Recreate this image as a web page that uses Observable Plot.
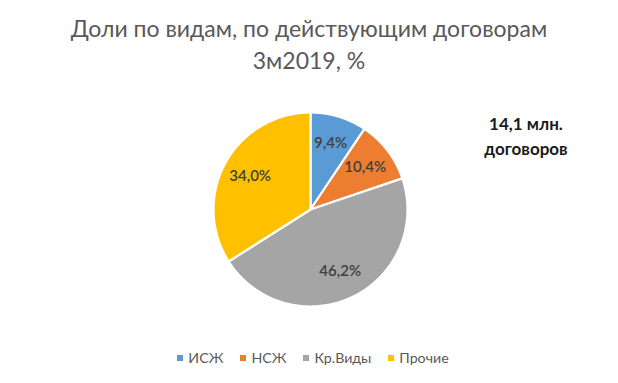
<!DOCTYPE html>
<html><head><meta charset="utf-8">
<script src="https://cdn.jsdelivr.net/npm/d3@7"></script>
<script src="https://cdn.jsdelivr.net/npm/@observablehq/plot@0.6"></script>
<style>
html,body{margin:0;padding:0;background:#fff;}
#wrap{position:relative;width:618px;height:383px;font-family:Lato,"Open Sans",sans-serif;}
#title{position:absolute;top:12px;left:0;width:618px;text-align:center;color:#595959;font-size:23px;line-height:32px;}
#chart{position:absolute;left:0;top:90px;}
#note{position:absolute;left:466px;top:111px;width:120px;text-align:center;font-weight:bold;font-size:17px;line-height:25px;color:#1a1a1a;}
#legend{position:absolute;top:349px;left:4px;width:618px;display:flex;justify-content:center;gap:17px;color:#595959;font-size:14.2px;}
#legend span.item{display:flex;align-items:center;}
#legend span.sw{display:inline-block;width:6px;height:6px;margin-right:5px;}
</style></head>
<body><div id="wrap">
<div id="title">Доли по видам, по действующим договорам<br>3м2019, %</div>
<div id="chart"></div>
<div id="note">14,1 млн.<br>договоров</div>
<div id="legend"></div>
</div>
<script>
const categories = ["ИСЖ", "НСЖ", "Кр.Виды", "Прочие"];
const shares = [9.4, 10.4, 46.2, 34.0];
const labels = ["9,4%", "10,4%", "46,2%", "34,0%"];
const colors = ["#5B9BD5", "#ED7D31", "#A5A5A5", "#FFC000"];

// slice geometry from the data via d3.pie (angles clockwise from 12 o'clock)
const arcs = d3.pie().sort(null).value(d => d)(shares);
const polyRows = [];
const labelRows = [];
arcs.forEach((a, i) => {
  const n = Math.max(2, Math.ceil((a.endAngle - a.startAngle) / 0.02));
  polyRows.push({cat: categories[i], x: 0, y: 0});
  for (let k = 0; k <= n; k++) {
    const t = a.startAngle + (a.endAngle - a.startAngle) * k / n;
    polyRows.push({cat: categories[i], x: Math.sin(t), y: Math.cos(t)});
  }
  polyRows.push({cat: categories[i], x: 0, y: 0});
  const m = (a.startAngle + a.endAngle) / 2;
  labelRows.push({cat: categories[i], label: labels[i], x: 0.71 * Math.sin(m), y: 0.71 * Math.cos(m)});
});

const R = 97;       // pixel radius
const W = 618, H = 240, cx = 310, cy = 119; // center inside svg
const plot = Plot.plot({
  width: W, height: H,
  margin: 0,
  x: {domain: [-cx / R, (W - cx) / R], axis: null},
  y: {domain: [-(H - cy) / R, cy / R], axis: null},
  color: {domain: categories, range: colors},
  marks: [
    Plot.line(polyRows, {x: "x", y: "y", z: "cat", fill: "cat", stroke: "white", strokeWidth: 2.2, strokeLinejoin: "round"}),
    Plot.text(labelRows, {x: "x", y: "y", text: "label", fill: "#404040", fontSize: 15, fontWeight: 600, fontFamily: "Lato, sans-serif"})
  ]
});
document.getElementById("chart").appendChild(plot);

const lg = document.getElementById("legend");
categories.forEach((c, i) => {
  const it = document.createElement("span"); it.className = "item";
  const sw = document.createElement("span"); sw.className = "sw"; sw.style.background = colors[i];
  it.appendChild(sw); it.appendChild(document.createTextNode(c));
  lg.appendChild(it);
});
</script>
</body></html>
